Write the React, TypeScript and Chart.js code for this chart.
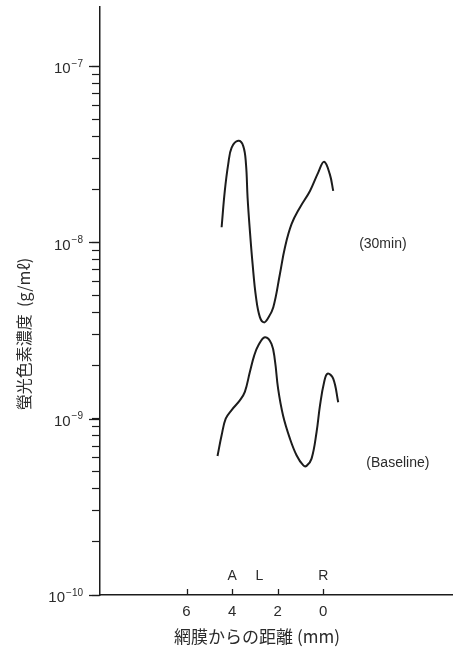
import React, { useEffect, useRef } from 'react';
import { Chart, registerables } from 'chart.js';

Chart.register(...registerables);

// ---- Data ----
const distance30min = [4.46, 4.32, 4.17, 4.02, 3.73, 3.51, 3.39, 3.32, 3.22, 3.10, 2.95, 2.78, 2.60, 2.43, 2.19, 1.90, 1.68, 1.39, 1.02, 0.58, 0.22, -0.04, -0.29, -0.44];
const conc30min = [1.22e-8, 1.96e-8, 2.78e-8, 3.45e-8, 3.77e-8, 3.52e-8, 2.78e-8, 1.80e-8, 1.17e-8, 7.55e-9, 4.89e-9, 3.77e-9, 3.52e-9, 3.70e-9, 4.29e-9, 6.62e-9, 9.37e-9, 1.27e-8, 1.58e-8, 1.96e-8, 2.49e-8, 2.87e-8, 2.44e-8, 1.96e-8];

const distanceBaseline = [4.64, 4.46, 4.28, 4.02, 3.66, 3.44, 3.22, 3.03, 2.85, 2.56, 2.27, 2.12, 1.98, 1.76, 1.46, 1.17, 0.88, 0.73, 0.51, 0.29, 0.14, -0.04, -0.19, -0.44, -0.66];
const concBaseline = [6.15e-10, 8.05e-10, 1.0e-9, 1.12e-9, 1.27e-9, 1.42e-9, 1.84e-9, 2.28e-9, 2.6e-9, 2.9e-9, 2.66e-9, 2.14e-9, 1.48e-9, 1.04e-9, 7.71e-10, 6.21e-10, 5.45e-10, 5.4e-10, 5.94e-10, 8.41e-10, 1.19e-9, 1.61e-9, 1.8e-9, 1.69e-9, 1.24e-9];

const xTickValues = [6, 4, 2, 0];
const yMajorExponents = [-10, -9, -8, -7];
const yMinorMultipliers = [2, 3, 4, 5, 6, 7, 8, 9];

const markerLabels = ['A', 'L', 'R'];
const markerPositions = [4, 2.8, 0];

const seriesNames = ['(30min)', '(Baseline)'];
const seriesNameX = [-2.62, -3.28];
const seriesNameY = [9.8e-9, 5.6e-10];

const xTitle = '網膜からの距離 (mm)';
const yTitle = '螢光色素濃度  (g/mℓ)';

const X_MIN = -5.7;
const X_MAX = 9.8;
const Y_MIN = 1e-10;
const Y_MAX = 2.16e-7;

const TEXT = '#2b2b2b';
const LINE = '#1c1c1c';
const LATIN = '"Liberation Sans", "Noto Sans CJK JP", sans-serif';
const CJK = '"Noto Sans CJK JP", "Liberation Sans", sans-serif';

const annotationPlugin = {
  id: 'figureText',
  afterDraw(chart: any) {
    const { ctx, chartArea } = chart;
    const x = chart.scales.x;
    const y = chart.scales.y;
    ctx.save();
    ctx.fillStyle = TEXT;
    ctx.strokeStyle = LINE;

    // y tick labels: 10 with superscript exponent
    ctx.textBaseline = 'middle';
    ctx.textAlign = 'left';
    for (const e of yMajorExponents) {
      const py = y.getPixelForValue(Math.pow(10, e));
      const expStr = '\u2212' + Math.abs(e);
      ctx.font = '10px ' + LATIN;
      const ew = ctx.measureText(expStr).width;
      ctx.font = '15px ' + LATIN;
      const bw = ctx.measureText('10').width;
      const right = chartArea.left - 17;
      ctx.fillText('10', right - ew - bw - 1, py + 3);
      ctx.font = '10px ' + LATIN;
      ctx.fillText(expStr, right - ew, py - 2);
    }

    // longer major ticks on y
    ctx.lineWidth = 1.3;
    for (const e of yMajorExponents) {
      const py = Math.round(y.getPixelForValue(Math.pow(10, e))) + 0.5;
      ctx.beginPath();
      ctx.moveTo(chartArea.left, py);
      ctx.lineTo(chartArea.left - 11, py);
      ctx.stroke();
    }

    // x inward tick marks
    for (const v of xTickValues) {
      const px = Math.round(x.getPixelForValue(v)) + 0.5;
      ctx.beginPath();
      ctx.moveTo(px, chartArea.bottom);
      ctx.lineTo(px, chartArea.bottom - 6);
      ctx.stroke();
    }

    // A / L / R markers
    ctx.font = '14px ' + LATIN;
    ctx.textAlign = 'center';
    ctx.textBaseline = 'middle';
    markerLabels.forEach((t, i) => {
      ctx.fillText(t, x.getPixelForValue(markerPositions[i]), chartArea.bottom - 19);
    });

    // series names
    ctx.font = '14px ' + LATIN;
    seriesNames.forEach((t, i) => {
      ctx.fillText(t, x.getPixelForValue(seriesNameX[i]), y.getPixelForValue(seriesNameY[i]));
    });

    // x title
    ctx.font = '17px ' + CJK;
    ctx.textAlign = 'center';
    ctx.fillText(xTitle, 257, 637);

    // y title (rotated)
    ctx.translate(24, 334);
    ctx.rotate(-Math.PI / 2);
    ctx.font = '16px ' + CJK;
    ctx.fillText(yTitle, 0, 0);
    ctx.restore();
  },
};

export default function App() {
  const ref = useRef<HTMLCanvasElement | null>(null);

  useEffect(() => {
    if (!ref.current) return;
    const yTicks: number[] = [];
    for (const e of yMajorExponents) {
      const base = Math.pow(10, e);
      yTicks.push(base);
      if (e < yMajorExponents[yMajorExponents.length - 1]) {
        for (const m of yMinorMultipliers) yTicks.push(m * base);
      }
    }

    const chart = new Chart(ref.current, {
      type: 'line',
      data: {
        datasets: [
          {
            label: '30min',
            data: distance30min.map((d, i) => ({ x: d, y: conc30min[i] })),
            borderColor: LINE,
            borderWidth: 2,
            pointRadius: 0,
            tension: 0.4,
            fill: false,
          },
          {
            label: 'Baseline',
            data: distanceBaseline.map((d, i) => ({ x: d, y: concBaseline[i] })),
            borderColor: LINE,
            borderWidth: 2,
            pointRadius: 0,
            tension: 0.4,
            fill: false,
          },
        ],
      },
      options: {
        responsive: false,
        animation: false,
        layout: { padding: { top: 7, right: 0, left: 0, bottom: 0 } },
        plugins: {
          legend: { display: false },
          tooltip: { enabled: false },
        },
        scales: {
          x: {
            type: 'linear',
            reverse: true,
            min: X_MIN,
            max: X_MAX,
            afterBuildTicks: (s: any) => {
              s.ticks = xTickValues.map((v) => ({ value: v }));
            },
            afterFit: (s: any) => {
              s.height = 54;
            },
            grid: { drawOnChartArea: false, drawTicks: false },
            border: { display: true, color: LINE, width: 1.5 },
            ticks: {
              padding: 8,
              color: TEXT,
              font: { family: LATIN, size: 15 },
              callback: (v: any) => String(v),
              maxRotation: 0,
            },
          },
          y: {
            type: 'logarithmic',
            min: Y_MIN,
            max: Y_MAX,
            afterBuildTicks: (s: any) => {
              s.ticks = yTicks.map((v) => ({ value: v }));
            },
            afterFit: (s: any) => {
              s.width = 100;
            },
            grid: {
              drawOnChartArea: false,
              drawTicks: true,
              tickLength: 8,
              tickColor: LINE,
              tickWidth: 1.2,
            },
            border: { display: true, color: LINE, width: 1.5 },
            ticks: {
              callback: () => '',
              padding: 0,
            },
          },
        },
      },
      plugins: [annotationPlugin],
    } as any);
    return () => chart.destroy();
  }, []);

  return (
    <div style={{ position: 'absolute', left: 0, top: 0, width: 453, height: 649, background: '#fff' }}>
      <canvas ref={ref} width={453} height={649} style={{ display: 'block' }} />
    </div>
  );
}
